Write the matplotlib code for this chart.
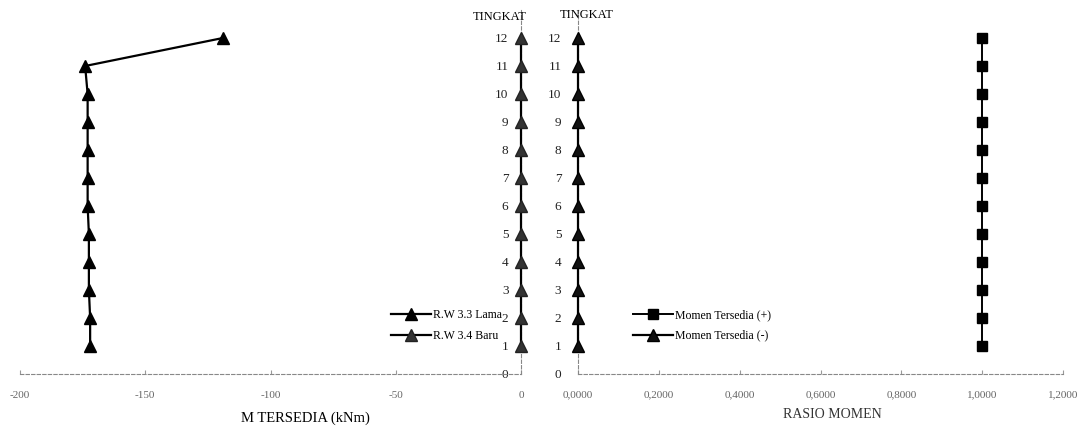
import matplotlib
matplotlib.use("Agg")
import matplotlib.pyplot as plt
import matplotlib.ticker as mticker

# ==========================================
# DATA
# ==========================================
tingkat = [1, 2, 3, 4, 5, 6, 7, 8, 9, 10, 11, 12]

# M tersedia (kNm)
rw_lama = [-172, -172, -172.5, -172.5, -172.5, -173, -173, -173, -173, -173, -174, -119]
rw_baru = [0, 0, 0, 0, 0, 0, 0, 0, 0, 0, 0, 0]

# rasio momen
momen_plus = [1.0, 1.0, 1.0, 1.0, 1.0, 1.0, 1.0, 1.0, 1.0, 1.0, 1.0, 1.0]
momen_min = [0, 0, 0, 0, 0, 0, 0, 0, 0, 0, 0, 0]

xticks_m = [-200, -150, -100, -50, 0]
xticks_r = [0, 0.2, 0.4, 0.6, 0.8, 1.0, 1.2]
yticks = list(range(0, 13))

# ==========================================
# FIGURE
# ==========================================
plt.rcParams['font.family'] = ['Liberation Serif', 'DejaVu Serif']

W, H = 1084, 434
fig = plt.figure(figsize=(W / 100, H / 100), dpi=100)

bottom = (H - 374) / H
height = 364 / H
ax1 = fig.add_axes([20 / W, bottom, 501 / W, height])
ax2 = fig.add_axes([578 / W, bottom, 485 / W, height])


def style_axis(ax, ypad):
    for s in ['top', 'right']:
        ax.spines[s].set_visible(False)
    ax.spines['left'].set_position(('data', 0))
    ax.spines['bottom'].set_position(('data', 0))
    for s in ['left', 'bottom']:
        ax.spines[s].set_color('#888888')
        ax.spines[s].set_linewidth(0.8)
        ax.spines[s].set_linestyle((0, (3, 2)))
    ax.set_ylim(0, 13)
    ax.set_yticks(yticks)
    ax.tick_params(axis='y', length=0, pad=ypad, labelsize=9.5, labelcolor='#222222')
    ax.tick_params(axis='x', direction='in', length=3, color='#999999', pad=12,
                   labelsize=8, labelcolor='#666666')
    ax.set_facecolor('none')


# Panel kiri : M tersedia
ax1.plot(rw_lama, tingkat, color='black', lw=1.6, marker='^', ms=8,
         mfc='black', mec='black', label='R.W 3.3 Lama', clip_on=False)
ax1.plot(rw_baru, tingkat, color='black', lw=1.6, marker='^', ms=8,
         mfc='#333333', mec='#222222', label='R.W 3.4 Baru', clip_on=False, zorder=3)
ax1.set_xlim(-200, 0)
ax1.set_xticks(xticks_m)
ax1.set_xticklabels([str(v) for v in xticks_m])
style_axis(ax1, 9)

# Panel kanan : rasio momen
ax2.plot(momen_plus, tingkat, color='black', lw=1.4, marker='s', ms=7,
         mfc='black', mec='black', label='Momen Tersedia (+)', clip_on=False)
ax2.plot(momen_min, tingkat, color='black', lw=1.6, marker='^', ms=8,
         mfc='#111111', mec='black', label='Momen Tersedia (-)', clip_on=False, zorder=3)
ax2.set_xlim(0, 1.2)
ax2.set_xticks(xticks_r)
ax2.xaxis.set_major_formatter(mticker.FuncFormatter(lambda v, p: f"{v:.4f}".replace('.', ',')))
style_axis(ax2, 12)

# Legenda
h1, l1 = ax1.get_legend_handles_labels()
fig.legend(h1, l1, loc='upper left', bbox_to_anchor=(385 / W, 1 - 303 / H),
           frameon=False, fontsize=8.5, handlelength=3.4, handletextpad=0.2,
           labelspacing=0.75, borderpad=0)
h2, l2 = ax2.get_legend_handles_labels()
fig.legend(h2, l2, loc='upper left', bbox_to_anchor=(627 / W, 1 - 303 / H),
           frameon=False, fontsize=8.5, handlelength=3.4, handletextpad=0.2,
           labelspacing=0.75, borderpad=0)

# Judul sumbu
fig.text(500 / W, 1 - 17 / H, 'TINGKAT', ha='center', va='center', fontsize=9)
fig.text(587 / W, 1 - 15 / H, 'TINGKAT', ha='center', va='center', fontsize=9)
fig.text(305 / W, 1 - 418 / H, 'M TERSEDIA (kNm)', ha='center', va='center', fontsize=10.5)
fig.text(832 / W, 1 - 415 / H, 'RASIO MOMEN', ha='center', va='center', fontsize=10,
         color='#333333')

fig.savefig('out.png', dpi=100)
